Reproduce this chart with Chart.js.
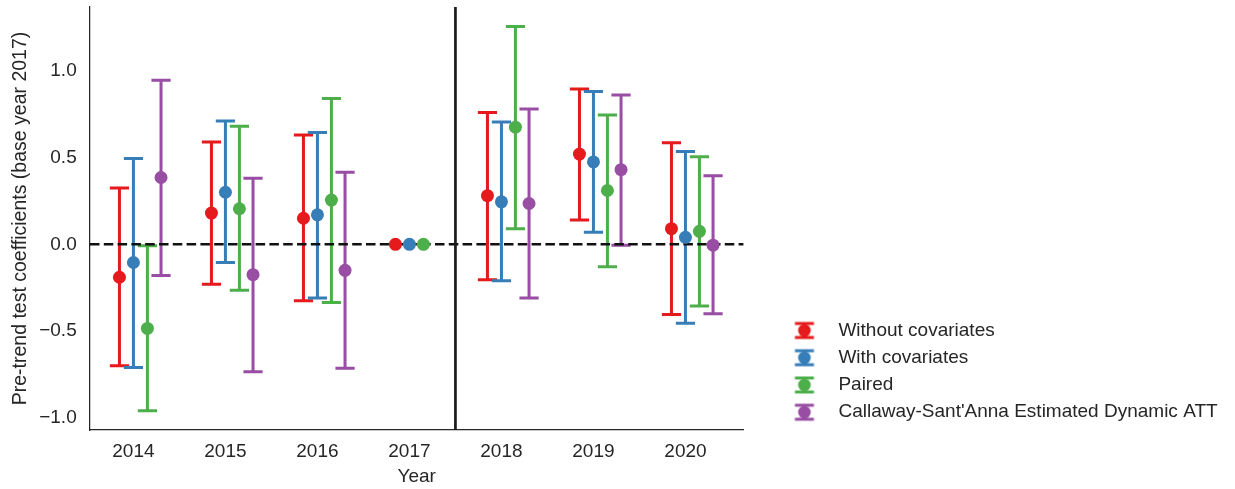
<!DOCTYPE html>
<html>
<head>
<meta charset="utf-8">
<script src="https://cdn.jsdelivr.net/npm/chart.js@4.4.1/dist/chart.umd.min.js"></script>
<style>
html, body { margin: 0; padding: 0; background: #ffffff; }
canvas { display: block; }
</style>
</head>
<body>
<canvas id="c" width="1235" height="489"></canvas>
<script>
// ---------- data ----------
const years = ['2014', '2015', '2016', '2017', '2018', '2019', '2020'];
const seriesNames = ['Without covariates', 'With covariates', 'Paired', "Callaway-Sant'Anna Estimated Dynamic ATT"];

const withoutCov     = [-0.19, 0.18, 0.15, 0, 0.28, 0.52, 0.09];
const withoutCovLow  = [-0.70, -0.23, -0.325, null, -0.205, 0.14, -0.405];
const withoutCovHigh = [0.325, 0.59, 0.63, null, 0.76, 0.895, 0.585];

const withCov     = [-0.105, 0.30, 0.17, 0, 0.245, 0.475, 0.04];
const withCovLow  = [-0.71, -0.105, -0.31, null, -0.21, 0.07, -0.455];
const withCovHigh = [0.495, 0.71, 0.645, null, 0.705, 0.88, 0.535];

const paired     = [-0.485, 0.205, 0.255, 0, 0.675, 0.31, 0.075];
const pairedLow  = [-0.96, -0.265, -0.335, null, 0.09, -0.13, -0.355];
const pairedHigh = [-0.008, 0.68, 0.84, null, 1.255, 0.745, 0.505];

const csAtt     = [0.385, -0.175, -0.15, null, 0.235, 0.43, -0.005];
const csAttLow  = [-0.18, -0.735, -0.715, null, -0.31, -0.005, -0.40];
const csAttHigh = [0.945, 0.38, 0.415, null, 0.78, 0.86, 0.395];

const yTickValues = [-1, -0.5, 0, 0.5, 1];
const yTickLabels = ['\u22121.0', '\u22120.5', '0.0', '0.5', '1.0'];

const zeroLineValue = 0;          // dashed reference line
const boundaryValue = 3.5;        // solid line between 2017 and 2018

// ---------- styles ----------
const colors = ['#e41a1c', '#377eb8', '#4daf4a', '#984ea3'];
const dodge = [-0.152, 0, 0.152, 0.3];
const textColor = '#262626';
const fontFamily = "'Liberation Sans', Arial, Helvetica, sans-serif";
const font = { family: fontFamily, size: 19 };
const titleFont = { family: fontFamily, size: 19.5 };

const series = [
  { vals: withoutCov, lo: withoutCovLow, hi: withoutCovHigh },
  { vals: withCov, lo: withCovLow, hi: withCovHigh },
  { vals: paired, lo: pairedLow, hi: pairedHigh },
  { vals: csAtt, lo: csAttLow, hi: csAttHigh }
];

const datasets = series.map((s, k) => ({
  label: seriesNames[k],
  data: s.vals
    .map((v, i) => v == null ? null : { x: i + dodge[k], y: v, lo: s.lo[i], hi: s.hi[i] })
    .filter(p => p !== null),
  backgroundColor: colors[k],
  borderColor: colors[k],
  pointRadius: 6.5,
  pointHoverRadius: 6.5,
  pointBorderWidth: 0,
  showLine: false
}));

// legend glyphs (error bar with point)
function makeGlyph(color) {
  const c = document.createElement('canvas');
  c.width = 24; c.height = 20;
  const g = c.getContext('2d');
  g.strokeStyle = color; g.fillStyle = color; g.lineWidth = 3;
  g.beginPath();
  g.moveTo(12, 3); g.lineTo(12, 17);
  g.moveTo(2.5, 3); g.lineTo(21.5, 3);
  g.moveTo(2.5, 17); g.lineTo(21.5, 17);
  g.stroke();
  g.beginPath(); g.arc(12, 10, 6.3, 0, Math.PI * 2); g.fill();
  return c;
}
const glyphs = colors.map(makeGlyph);

const errorBarPlugin = {
  id: 'errorBars',
  beforeDatasetsDraw(chart) {
    const ctx = chart.ctx;
    const xs = chart.scales.x, ys = chart.scales.y;
    const area = chart.chartArea;
    const capHalf = 9.6;
    ctx.save();
    chart.data.datasets.forEach((ds) => {
      ctx.strokeStyle = ds.borderColor;
      ctx.lineWidth = 3;
      ctx.lineCap = 'butt';
      ds.data.forEach((p) => {
        if (p.lo == null || p.hi == null) return;
        const px = xs.getPixelForValue(p.x);
        const pl = ys.getPixelForValue(p.lo);
        const ph = ys.getPixelForValue(p.hi);
        ctx.beginPath();
        ctx.moveTo(px, pl); ctx.lineTo(px, ph);
        ctx.moveTo(px - capHalf, pl); ctx.lineTo(px + capHalf, pl);
        ctx.moveTo(px - capHalf, ph); ctx.lineTo(px + capHalf, ph);
        ctx.stroke();
      });
    });
    // dashed zero line
    const y0 = ys.getPixelForValue(zeroLineValue);
    ctx.strokeStyle = '#111111';
    ctx.lineWidth = 2.6;
    ctx.setLineDash([9.5, 4.3]);
    ctx.beginPath();
    ctx.moveTo(area.left, y0); ctx.lineTo(area.right, y0);
    ctx.stroke();
    ctx.setLineDash([]);
    // vertical boundary line
    const xb = xs.getPixelForValue(boundaryValue);
    ctx.strokeStyle = '#1a1a1a';
    ctx.lineWidth = 2.7;
    ctx.beginPath();
    ctx.moveTo(xb, area.top); ctx.lineTo(xb, area.bottom);
    ctx.stroke();
    ctx.restore();
  }
};

function noPadV(s) { s.paddingTop = 0; s.paddingBottom = 0; }
function noPadH(s) { s.paddingLeft = 0; s.paddingRight = 0; }

new Chart(document.getElementById('c'), {
  type: 'scatter',
  data: { datasets },
  plugins: [errorBarPlugin],
  options: {
    responsive: false,
    devicePixelRatio: 1,
    animation: false,
    layout: { padding: { top: 7, right: 7.4, bottom: 0, left: 0 } },
    plugins: {
      tooltip: { enabled: false },
      legend: {
        position: 'right',
        align: 'end',
        fullSize: false,
        maxWidth: 520,
        labels: {
          usePointStyle: true,
          pointStyleWidth: 49,
          padding: 8.25,
          color: textColor,
          font: font,
          generateLabels: (chart) => chart.data.datasets.map((ds, i) => ({
            text: ds.label,
            pointStyle: glyphs[i],
            fillStyle: ds.backgroundColor,
            strokeStyle: ds.backgroundColor,
            lineWidth: 0,
            hidden: false,
            fontColor: textColor,
            datasetIndex: i
          }))
        }
      }
    },
    scales: {
      x: {
        type: 'linear',
        position: 'bottom',
        min: -0.472,
        max: 6.63,
        afterBuildTicks: (s) => { s.ticks = years.map((_, i) => ({ value: i })); },
        afterFit: (s) => { s.height = 59; noPadH(s); },
        ticks: {
          callback: (v) => years[v] !== undefined ? years[v] : '',
          font: font, color: textColor, padding: 10,
          maxRotation: 0, autoSkip: false
        },
        grid: { display: false, drawTicks: false },
        border: { display: true, color: textColor, width: 1.25 },
        title: { display: true, text: 'Year', font: font, color: textColor, padding: { top: 0, bottom: 0.6 } }
      },
      y: {
        type: 'linear',
        position: 'left',
        min: -1.0703,
        max: 1.3677,
        afterBuildTicks: (s) => { s.ticks = yTickValues.map(v => ({ value: v })); },
        afterFit: (s) => { s.width = 90; noPadV(s); },
        ticks: {
          callback: (v, i) => yTickLabels[i],
          font: font, color: textColor, padding: 13.3
        },
        grid: { display: false, drawTicks: false },
        border: { display: true, color: textColor, width: 1.25 },
        title: {
          display: true,
          text: 'Pre-trend test coefficients (base year 2017)',
          font: titleFont, color: textColor, padding: { top: 9.3, bottom: 0 }
        }
      },
      yR: {
        type: 'linear',
        position: 'right',
        display: true,
        grid: { display: false, drawTicks: false },
        border: { display: false },
        ticks: { display: false },
        afterFit: (s) => { s.width = 28.25; noPadV(s); }
      }
    }
  }
});
</script>
</body>
</html>
